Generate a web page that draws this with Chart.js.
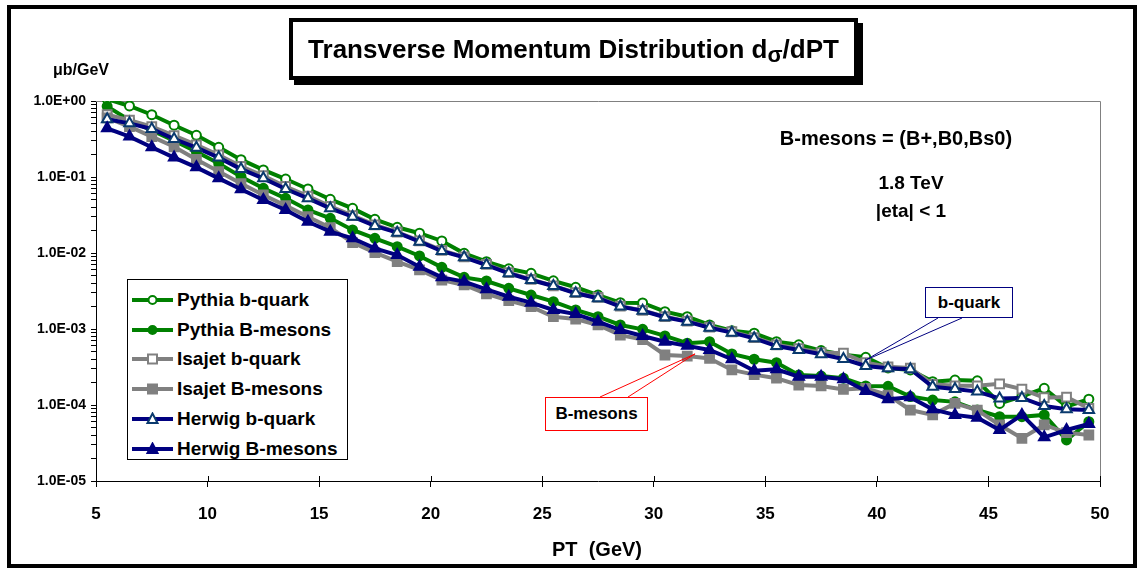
<!DOCTYPE html>
<html>
<head>
<meta charset="utf-8">
<script src="https://cdn.jsdelivr.net/npm/chart.js@4.4.0/dist/chart.umd.min.js"></script>
<style>
body { margin: 0; background: #fff; font-family: Arial, 'Liberation Sans', sans-serif; }
#wrap { position: relative; width: 1138px; height: 568px; overflow: hidden; background: #fff; }
#frame { position: absolute; left: 7px; top: 5px; width: 1130px; height: 563px; box-sizing: border-box; border: 4px solid #000; }
#chart { position: absolute; left: 0; top: 0; }
.lbl { position: absolute; font-weight: bold; color: #000; white-space: nowrap; }
#title { left: 289px; top: 18px; width: 569px; height: 62px; box-sizing: border-box; border: 4px solid #000;
  box-shadow: 5px 5px 0 #000; background: #fff; font-size: 26px; display: flex; align-items: center; justify-content: center; }
#title .sig { font-size: 22px; position: relative; top: 6px; }
#unit { left: 53px; top: 61px; font-size: 16px; }
#legend { position: absolute; left: 127px; top: 279px; width: 221px; height: 181px; box-sizing: border-box; border: 1px solid #000; background: #fff; padding-top: 5px; }
#legend .row { height: 29.8px; display: flex; align-items: center; font-weight: bold; font-size: 19px; }
#legend svg { margin-left: 4px; margin-right: 4px; }
.note { text-align: center; }
.box { position: absolute; box-sizing: border-box; background: #fff; font-weight: bold; font-size: 17px; display: flex; align-items: center; justify-content: center; }
</style>
</head>
<body>
<div id="wrap">
  <div id="frame"></div>
  <canvas id="chart" width="1138" height="568"></canvas>
  <div class="lbl" id="title">Transverse Momentum Distribution d<span class="sig">σ</span>/dPT</div>
  <div class="lbl" id="unit">μb/GeV</div>
  <div class="lbl note" style="left:766px; top:127px; width:260px; font-size:20px;">B-mesons = (B+,B0,Bs0)</div>
  <div class="lbl note" style="left:850px; top:172px; width:122px; font-size:19px;">1.8 TeV</div>
  <div class="lbl note" style="left:850px; top:200px; width:122px; font-size:19px;">|eta| &lt; 1</div>
  <div class="lbl" id="xtitle" style="left:552px; top:538px; font-size:20px;">PT&nbsp; (GeV)</div>
  <div class="box" style="left:925px; top:287px; width:88px; height:31px; border:1px solid #000080;">b-quark</div>
  <div class="box" style="left:545px; top:397px; width:103px; height:34px; border:1px solid #ff0000;">B-mesons</div>
  <div id="legend"></div>
</div>
<script>
const xValues = [5.5, 6.5, 7.5, 8.5, 9.5, 10.5, 11.5, 12.5, 13.5, 14.5, 15.5, 16.5, 17.5, 18.5, 19.5,
  20.5, 21.5, 22.5, 23.5, 24.5, 25.5, 26.5, 27.5, 28.5, 29.5, 30.5, 31.5, 32.5, 33.5, 34.5,
  35.5, 36.5, 37.5, 38.5, 39.5, 40.5, 41.5, 42.5, 43.5, 44.5, 45.5, 46.5, 47.5, 48.5, 49.5];

const pythiaQuark = [1.06, 0.86, 0.66, 0.48, 0.354, 0.246, 0.169, 0.124, 0.094, 0.0695, 0.0509,
  0.0387, 0.0277, 0.0218, 0.0182, 0.0144, 0.0099, 0.0077, 0.0062, 0.0054, 0.0043, 0.00354, 0.0028,
  0.00222, 0.0022, 0.00169, 0.00145, 0.00113, 0.00095, 0.00088, 0.00068, 0.00062, 0.00052, 0.00046,
  0.000424, 0.000307, 0.000289, 0.000203, 0.000213, 0.000208, 0.000105, 0.00013, 0.000166, 0.0000955, 0.000119];
const pythiaMeson = [0.85, 0.56, 0.41, 0.30, 0.215, 0.151, 0.101, 0.071, 0.0524, 0.0368, 0.0286,
  0.0201, 0.0156, 0.0121, 0.00914, 0.00647, 0.00478, 0.00428, 0.00343, 0.0028, 0.00229, 0.00178, 0.00145,
  0.00113, 0.00099, 0.00081, 0.00065, 0.00068, 0.00047, 0.0004, 0.00036, 0.000248, 0.00024, 0.000225,
  0.000178, 0.000176, 0.000129, 0.000116, 0.00011, 0.0000859, 0.0000702, 0.0000702, 0.0000741, 0.0000347, 0.0000603];
const isajetQuark = [0.66, 0.56, 0.46, 0.35, 0.265, 0.195, 0.138, 0.104, 0.075, 0.056, 0.041,
  0.031, 0.0235, 0.0188, 0.0144, 0.0108, 0.0089, 0.0071, 0.0055, 0.0045, 0.0037, 0.003, 0.0026,
  0.002, 0.00176, 0.00145, 0.00127, 0.00106, 0.00092, 0.00077, 0.00062, 0.00055, 0.00049, 0.00048,
  0.00036, 0.000318, 0.000306, 0.000187, 0.000179, 0.000179, 0.00019, 0.000162, 0.000125, 0.000127, 0.0000905];
const isajetMeson = [0.60, 0.46, 0.34, 0.25, 0.17, 0.118, 0.082, 0.058, 0.042, 0.030, 0.0215,
  0.0137, 0.0101, 0.0077, 0.0060, 0.0044, 0.0038, 0.0029, 0.00236, 0.00197, 0.00145, 0.00135, 0.00113,
  0.00083, 0.000726, 0.000455, 0.00044, 0.00041, 0.000289, 0.000251, 0.000225, 0.000183, 0.000178, 0.00016,
  0.000166, 0.000135, 0.0000859, 0.0000741, 0.000105, 0.0000859, 0.0000546, 0.0000365, 0.0000546, 0.0000433, 0.0000403];
const herwigQuark = [0.574, 0.508, 0.428, 0.316, 0.243, 0.18, 0.127, 0.096, 0.0695, 0.0524, 0.0387,
  0.030, 0.0227, 0.0185, 0.0141, 0.0106, 0.00877, 0.00695, 0.0054, 0.00441, 0.00368, 0.00295, 0.00254,
  0.00197, 0.00174, 0.00143, 0.00125, 0.00104, 0.000895, 0.000754, 0.000597, 0.00053, 0.000465, 0.000403,
  0.000326, 0.000304, 0.000296, 0.000174, 0.000162, 0.00015, 0.000122, 0.000124, 0.000097, 0.0000877, 0.0000859];
const herwigMeson = [0.437, 0.34, 0.246, 0.18, 0.134, 0.096, 0.0689, 0.0498, 0.0368, 0.0258, 0.0191,
  0.0156, 0.0115, 0.0094, 0.0066, 0.00478, 0.0042, 0.00333, 0.00266, 0.00222, 0.00178, 0.00157, 0.00125,
  0.00097, 0.00081, 0.00068, 0.0006, 0.00053, 0.0004, 0.000283, 0.000295, 0.000236, 0.000236, 0.000218,
  0.000153, 0.000119, 0.000126, 0.0000877, 0.0000741, 0.0000681, 0.0000469, 0.0000741, 0.0000376, 0.0000469, 0.0000562];

const seriesNames = ['Pythia b-quark', 'Pythia B-mesons', 'Isajet b-quark', 'Isajet B-mesons', 'Herwig b-quark', 'Herwig B-mesons'];

const xTicks = [5, 10, 15, 20, 25, 30, 35, 40, 45, 50];
const yTicks = [1, 0.1, 0.01, 0.001, 0.0001, 0.00001];
const yTickLabels = ['1.0E+00', '1.0E-01', '1.0E-02', '1.0E-03', '1.0E-04', '1.0E-05'];

// callout tips sit on the data, boxes are fixed
const callouts = [
  { x: 39.5, y: 0.00039, color: '#000080', from: [[938, 318], [962, 318]] },
  { x: 31.85, y: 0.00047, color: '#ff0000', from: [[600, 397], [628, 397]] }
];

const FONT = "Arial, 'Liberation Sans', sans-serif";
const GREEN = '#008000', GRAY = '#808080', NAVY = '#000080', OPENBLUE = '#0a3a6e';

const styles = [
  { values: pythiaQuark, line: GREEN, edge: GREEN, shape: 'circle', open: true, r: 4.5, order: 6 },
  { values: pythiaMeson, line: GREEN, edge: GREEN, shape: 'circle', open: false, r: 4.5, order: 5 },
  { values: isajetQuark, line: GRAY, edge: GRAY, shape: 'rect', open: true, r: 6.2, order: 4 },
  { values: isajetMeson, line: GRAY, edge: GRAY, shape: 'rect', open: false, r: 6.2, order: 3 },
  { values: herwigQuark, line: NAVY, edge: OPENBLUE, shape: 'triangle', open: true, r: 6, order: 2 },
  { values: herwigMeson, line: NAVY, edge: NAVY, shape: 'triangle', open: false, r: 6, order: 1 }
];

const datasets = styles.map((s, k) => ({
  label: seriesNames[k],
  data: s.values.map((v, i) => ({ x: xValues[i], y: v })),
  borderColor: s.line,
  borderWidth: 4,
  pointStyle: s.shape,
  pointRadius: s.r,
  pointBorderWidth: 2,
  pointBorderColor: s.edge,
  pointBackgroundColor: s.open ? '#fff' : s.edge,
  order: s.order,
  tension: 0,
  fill: false
}));

const extras = {
  id: 'extras',
  beforeDatasetsDraw(chart) {
    const { ctx, chartArea: a } = chart;
    ctx.save();
    ctx.strokeStyle = '#808080';
    ctx.lineWidth = 1;
    ctx.beginPath();
    ctx.moveTo(a.left, a.top + 0.5);
    ctx.lineTo(a.right + 0.5, a.top + 0.5);
    ctx.lineTo(a.right + 0.5, a.bottom);
    ctx.stroke();
    ctx.restore();
  },
  afterDraw(chart) {
    const { ctx, scales: { x, y }, chartArea: a } = chart;
    ctx.save();
    ctx.strokeStyle = '#000';
    ctx.lineWidth = 1;
    xTicks.forEach(v => {
      const px = Math.round(x.getPixelForValue(v)) + 0.5;
      ctx.beginPath();
      ctx.moveTo(px, a.bottom - 5);
      ctx.lineTo(px, a.bottom);
      ctx.stroke();
    });
    callouts.forEach(c => {
      const tx = x.getPixelForValue(c.x), ty = y.getPixelForValue(c.y);
      ctx.strokeStyle = c.color;
      ctx.beginPath();
      ctx.moveTo(c.from[0][0], c.from[0][1]);
      ctx.lineTo(tx, ty);
      ctx.lineTo(c.from[1][0], c.from[1][1]);
      ctx.stroke();
    });
    ctx.restore();
  }
};

new Chart(document.getElementById('chart'), {
  type: 'line',
  data: { datasets: datasets },
  options: {
    responsive: false,
    animation: false,
    events: [],
    layout: { padding: { top: 101, right: 38, left: 0, bottom: 0 } },
    plugins: { legend: { display: false }, tooltip: { enabled: false } },
    scales: {
      x: {
        type: 'linear', min: 5, max: 50,
        afterBuildTicks: s => { s.ticks = xTicks.map(v => ({ value: v })); },
        afterFit: s => { s.height = 87; },
        grid: { drawOnChartArea: false, tickLength: 6, tickColor: '#000', color: '#000' },
        border: { color: '#000', width: 1 },
        ticks: { color: '#000', font: { family: FONT, size: 17, weight: 'bold' }, padding: 17, maxRotation: 0, autoSkip: false }
      },
      y: {
        type: 'logarithmic', min: 0.00001, max: 1,
        afterBuildTicks: s => {
          const t = [];
          yTicks.forEach(d => {
            t.push({ value: d });
            if (d < 1) for (let m = 2; m <= 9; m++) t.push({ value: m * d });
          });
          s.ticks = t;
        },
        afterFit: s => { s.width = 96; },
        grid: { drawOnChartArea: false, tickLength: 5, tickColor: '#000', color: '#000' },
        border: { color: '#000', width: 1 },
        ticks: {
          color: '#000', font: { family: FONT, size: 14, weight: 'bold' }, padding: 5, autoSkip: false,
          callback: v => {
            const i = yTicks.findIndex(d => Math.abs(Math.log10(v) - Math.log10(d)) < 1e-6);
            return i < 0 ? '' : yTickLabels[i];
          }
        }
      }
    }
  },
  plugins: [extras]
});

// legend built from the same series styles
const legend = document.getElementById('legend');
styles.forEach((s, k) => {
  const row = document.createElement('div');
  row.className = 'row';
  let mark;
  const fill = s.open ? '#fff' : s.edge;
  if (s.shape === 'circle') mark = `<circle cx="20.5" cy="7" r="4" fill="${fill}" stroke="${s.edge}" stroke-width="2"/>`;
  else if (s.shape === 'rect') mark = `<rect x="16" y="2.5" width="9" height="9" fill="${fill}" stroke="${s.edge}" stroke-width="2"/>`;
  else mark = `<polygon points="20.5,1.5 25.5,11 15.5,11" fill="${fill}" stroke="${s.edge}" stroke-width="2"/>`;
  row.innerHTML = `<svg width="41" height="14"><line x1="0" y1="7" x2="41" y2="7" stroke="${s.line}" stroke-width="4"/>${mark}</svg><span>${seriesNames[k]}</span>`;
  legend.appendChild(row);
});
</script>
</body>
</html>
